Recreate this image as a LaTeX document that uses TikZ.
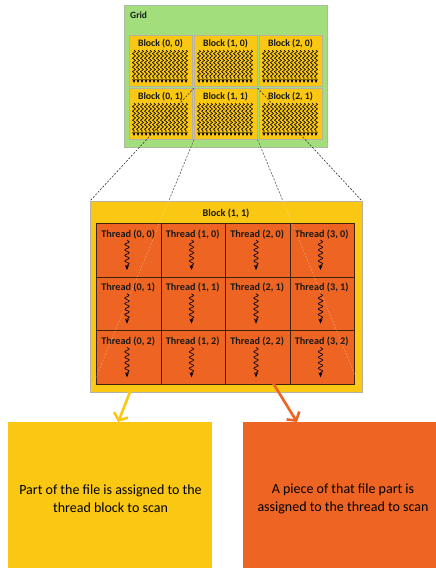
\documentclass[tikz,border=0pt]{standalone}
\usepackage{fontspec}
\setmainfont{Carlito}
\usetikzlibrary{decorations.pathmorphing,arrows.meta,calc}
\definecolor{gridgreen}{HTML}{A2DF7C}
\definecolor{gridline}{HTML}{A9BCA0}
\definecolor{blockyellow}{HTML}{FAC712}
\definecolor{threadorange}{HTML}{EE6422}
\definecolor{threadline}{HTML}{3A2410}
\definecolor{boxline}{HTML}{B8B0A0}
\tikzset{
  gridbox/.style={draw=gridline, fill=gridgreen, line width=0.6pt, anchor=north west, minimum width=203pt, minimum height=142pt, inner sep=0pt},
  smallblock/.style={draw=boxline, fill=blockyellow, line width=0.6pt, anchor=north west, minimum width=63pt, minimum height=51pt, inner sep=0pt},
  bigblock/.style={draw=boxline, fill=blockyellow, line width=0.8pt, anchor=north west, minimum width=272pt, minimum height=191pt, inner sep=0pt},
  threadcell/.style={draw=threadline, fill=threadorange, line width=0.7pt, anchor=north west, minimum width=64.5pt, minimum height=53.67pt, inner sep=0pt},
  lbl/.style={font=\bfseries\fontsize{10.2}{12}\selectfont, inner sep=0pt, text=black!90},
  smallsnake/.style={line width=0.6pt, decorate, decoration={snake, amplitude=1.5pt, segment length=4.5pt, post length=3.5pt}, -{Stealth[length=4pt,width=3.4pt]}},
  threadsnake/.style={line width=0.65pt, decorate, decoration={snake, amplitude=2.2pt, segment length=5.5pt, post length=4pt}, -{Stealth[length=5pt,width=4pt]}},
  zoomline/.style={line width=0.6pt, dash pattern=on 2pt off 1.5pt, black!80},
  faintline/.style={line width=0.6pt, dash pattern=on 2pt off 1.5pt, white, opacity=0.3},
  note/.style={align=center, font=\fontsize{14}{18}\selectfont, inner sep=0pt},
  yarrow/.style={line width=2.6pt, blockyellow, -{Straight Barb[length=6pt,width=15pt]}},
  oarrow/.style={line width=2.6pt, threadorange, -{Straight Barb[length=6pt,width=15pt]}},
}
\begin{document}
\begin{tikzpicture}[x=1pt,y=-1pt]
\useasboundingbox (0,0) rectangle (436,568);
% grid
\node[gridbox] (grid) at (124,5) {};
\node[lbl, anchor=west, font=\bfseries\fontsize{9.5}{11}\selectfont] (gridlbl) at (130,15) {Grid};
\foreach \c in {0,1,2} {
  \foreach \r in {0,1} {
    \pgfmathsetmacro{\xo}{129+65*\c}
    \pgfmathsetmacro{\yo}{35+53*\r}
    \node[smallblock] (b\c\r) at (\xo,\yo) {};
    \node[lbl, font=\bfseries\fontsize{9.8}{11}\selectfont] (bl\c\r) at (\xo+31.5,\yo+9) {Block (\c, \r)};
    \foreach \i in {0,...,13} {
      \draw[smallsnake] (\xo+5+4*\i,\yo+15) -- (\xo+5+4*\i,\yo+48);
    }
  }
}
% zoom lines
\coordinate (ztl) at (90,201);
\coordinate (ztr) at (362,201);
\coordinate (zbl) at (90,392);
\coordinate (zbr) at (362,392);
\draw[zoomline] (b11.north west) -- (ztl);
\draw[zoomline] (b11.north east) -- (ztr);
\draw[zoomline] (b11.south west) -- (zbl);
\draw[zoomline] (b11.south east) -- (zbr);
% big block
\node[bigblock] (big) at (90,201) {};
\node[lbl] (bigl) at (226,213) {Block (1, 1)};
\foreach \c in {0,1,2,3} {
  \foreach \r in {0,1,2} {
    \pgfmathsetmacro{\xo}{96+64.5*\c}
    \pgfmathsetmacro{\yo}{223+53.67*\r}
    \node[threadcell] (t\c\r) at (\xo,\yo) {};
    \node[lbl] (tl\c\r) at (\xo+32.25,\yo+11) {Thread (\c, \r)};
    \draw[threadsnake] (\xo+31,\yo+17) -- (\xo+31,\yo+47);
  }
}
\draw[faintline] (b11.south west) -- (zbl);
\draw[faintline] (b11.south east) -- (zbr);
% bottom boxes
\node[fill=blockyellow, anchor=north west, minimum width=204pt, minimum height=146pt, inner sep=0pt] (box1) at (8,422) {};
\node[fill=threadorange, anchor=north west, minimum width=193pt, minimum height=146pt, inner sep=0pt] (box2) at (243,422) {};
\node[note] (n1) at (110.5,499) {Part of the file is assigned to the\\thread block to scan};
\node[note] (n2) at (343,499) {A piece of that file part is\\assigned to the thread to scan};
% arrows
\coordinate (ya) at (130,392);
\coordinate (oa) at (273,383);
\draw[yarrow] (ya) -- ($(box1.north)+(8,0)$);
\draw[oarrow] (oa) -- ($(box2.north west)+(54,0)$);
\end{tikzpicture}
\end{document}
